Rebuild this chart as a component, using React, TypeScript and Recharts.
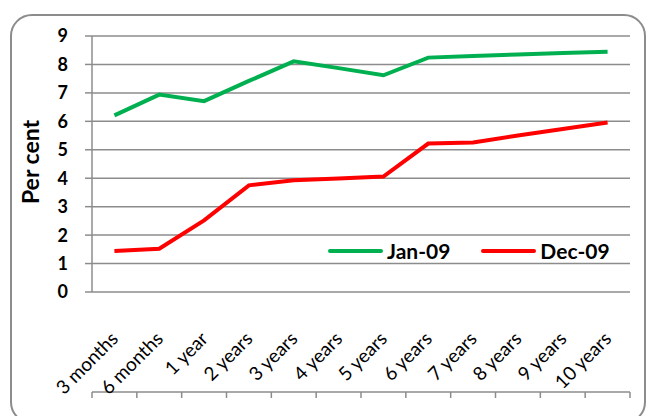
import React from 'react';
import { LineChart, Line, XAxis, YAxis, CartesianGrid, Legend } from 'recharts';

const categories = ['3 months', '6 months', '1 year', '2 years', '3 years', '4 years', '5 years', '6 years', '7 years', '8 years', '9 years', '10 years'];
const jan09 = [6.21, 6.94, 6.71, 7.42, 8.11, 7.87, 7.62, 8.24, 8.3, 8.35, 8.4, 8.45];
const dec09 = [1.44, 1.52, 2.52, 3.75, 3.93, 3.99, 4.06, 5.22, 5.26, 5.5, 5.73, 5.96];
const yTicks = [0, 1, 2, 3, 4, 5, 6, 7, 8, 9];
const seriesNames = ['Jan-09', 'Dec-09'];
const seriesColors = ['#00b050', '#ff0000'];

const data = categories.map((c, i) => ({ pos: i + 0.5, name: c, jan: jan09[i], dec: dec09[i] }));
const boundaryTicks = categories.map((_, i) => i).concat([categories.length]);
const centerTicks = categories.map((_, i) => i + 0.5);

const FONT = 'Lato, "Open Sans", sans-serif';

const XLabelTick = (props: any) => {
  const { x, y, payload } = props;
  const label = categories[Math.floor(payload.value)];
  const ax = x + 5;
  const ay = y + 40;
  return (
    <text x={ax} y={ay} transform={`rotate(-45 ${ax} ${ay})`} textAnchor="end" fontFamily={FONT} fontSize={19} fill="#000">
      {label}
    </text>
  );
};

const EmptyTick = () => <g />;

const YTick = (props: any) => {
  const { x, y, payload } = props;
  return (
    <text x={x} y={y} dy="0.36em" textAnchor="end" fontFamily={FONT} fontWeight={700} fontSize={18} fill="#000">
      {payload.value}
    </text>
  );
};

const YLabel = () => (
  <text x={39} y={162} transform="rotate(-90 39 162)" textAnchor="middle" fontFamily={FONT} fontWeight={700} fontSize={23} fill="#000">
    Per cent
  </text>
);

const LegendContent = (props: any) => {
  const payload = [...(props.payload || [])].sort(
    (a: any, b: any) => seriesNames.indexOf(a.value) - seriesNames.indexOf(b.value)
  );
  return (
    <div style={{ display: 'flex', alignItems: 'center', fontFamily: FONT, fontWeight: 700, fontSize: 21, color: '#000' }}>
      {payload.map((p: any, i: number) => (
        <div key={i} style={{ display: 'flex', alignItems: 'center', marginRight: i === 0 ? 31 : 0 }}>
          <div style={{ width: 55, height: 4, background: p.color, borderRadius: 2, marginRight: 4 }} />
          <span>{p.value}</span>
        </div>
      ))}
    </div>
  );
};

export default function App() {
  return (
    <div style={{ position: 'absolute', left: 0, top: 0, width: 649, height: 416, overflow: 'hidden', background: '#fff' }}>
      <div style={{ position: 'absolute', left: 10, top: 14, width: 636, height: 410, border: '2px solid #8c8c8c', borderRadius: 22, boxSizing: 'border-box' }} />
      <div style={{ position: 'absolute', left: 0, top: 0 }}>
        <LineChart width={649} height={416} data={data} margin={{ top: 36, right: 19, left: 32, bottom: 23 }}>
          <CartesianGrid vertical={false} stroke="#8c8c8c" strokeWidth={1.5} />
          <XAxis xAxisId="main" dataKey="pos" type="number" domain={[0, 12]} ticks={boundaryTicks} interval={0} height={1} tick={EmptyTick} tickSize={6} tickLine={{ stroke: '#8c8c8c', strokeWidth: 1.5 }} axisLine={{ stroke: '#8c8c8c', strokeWidth: 1.5 }} />
          <XAxis xAxisId="labels" dataKey="pos" type="number" domain={[0, 12]} ticks={centerTicks} interval={0} height={100} tick={XLabelTick} tickLine={false} axisLine={false} />
          <YAxis domain={[0, 9]} ticks={yTicks} interval={0} width={60} tick={YTick} tickSize={7} tickMargin={17} tickLine={{ stroke: '#8c8c8c', strokeWidth: 1.5 }} axisLine={{ stroke: '#8c8c8c', strokeWidth: 1.5 }} label={<YLabel />} />
          <Legend layout="horizontal" verticalAlign="middle" align="center" content={LegendContent} wrapperStyle={{ position: 'absolute', left: 328, top: 238, width: 310 }} />
          <Line xAxisId="main" type="linear" dataKey="jan" name={seriesNames[0]} stroke={seriesColors[0]} strokeWidth={4} dot={false} isAnimationActive={false} />
          <Line xAxisId="main" type="linear" dataKey="dec" name={seriesNames[1]} stroke={seriesColors[1]} strokeWidth={4} dot={false} isAnimationActive={false} />
        </LineChart>
      </div>
    </div>
  );
}
